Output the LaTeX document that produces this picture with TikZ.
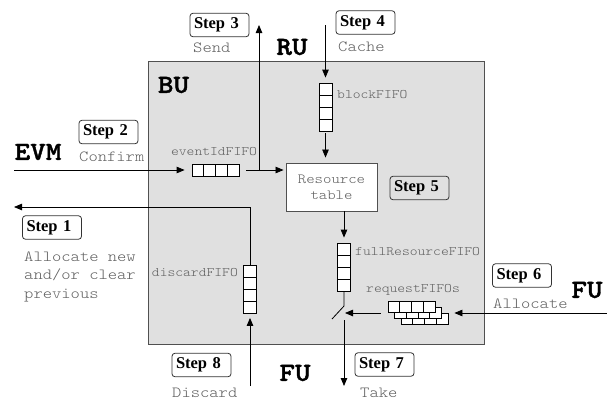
\documentclass[tikz,border=0pt]{standalone}
\usepackage{fontspec}
\setmainfont{Liberation Serif}
\newfontfamily\mono[FakeStretch=1.143]{lmmonolt10-regular.otf}
\newfontfamily\monobf[FakeStretch=1.143, FakeBold=1.5]{lmmonolt10-bold.otf}
\usetikzlibrary{arrows.meta}

\definecolor{bufill}{HTML}{E0E0E0}
\definecolor{edge}{HTML}{505050}
\definecolor{monotext}{HTML}{606060}

\tikzset{
  arr/.style={draw=black, line width=0.8pt, -{Triangle[length=8pt,width=6.5pt]}},
  wire/.style={draw=black, line width=0.8pt},
  stepbox/.style={draw=black!80, line width=0.8pt, rounded corners=3pt,
    minimum width=59pt, minimum height=23.5pt, inner xsep=4pt, inner ysep=0pt,
    text width=51pt, align=left, font=\fontsize{16.5}{18}\selectfont\bfseries},
  desc/.style={inner sep=0pt, text=monotext, font=\mono\fontsize{15.5}{18.5}\selectfont},
  fifolabel/.style={inner sep=0pt, text=monotext, font=\mono\fontsize{13}{15}\selectfont},
  unitlabel/.style={inner sep=0pt, font=\monobf\fontsize{26}{28}\selectfont},
  hfifo/.style={draw=black, fill=white, line width=0.8pt, inner sep=0pt,
    minimum width=47pt, minimum height=12pt,
    path picture={\foreach \i in {1,2,3}{
      \draw[line width=0.8pt] ([xshift=\i*11.75pt]path picture bounding box.south west)
        -- ([xshift=\i*11.75pt]path picture bounding box.north west);}}},
  vfifo/.style={draw=black, fill=white, line width=0.8pt, inner sep=0pt,
    minimum width=13pt, minimum height=48pt,
    path picture={\foreach \i in {1,2,3}{
      \draw[line width=0.8pt] ([yshift=\i*12pt]path picture bounding box.south west)
        -- ([yshift=\i*12pt]path picture bounding box.south east);}}},
}

\begin{document}
\begin{tikzpicture}[x=1pt, y=-1pt]
  \useasboundingbox (0,0) rectangle (607,400);

  % Builder unit
  \node[draw=edge, fill=bufill, line width=0.9pt, minimum width=336pt, minimum height=283pt,
        inner sep=0pt] (bu) at (316,202.5) {};

  % Unit names
  \node[unitlabel] (evm) at (38,152) {EVM};
  \node[unitlabel] (ru) at (292,47) {RU};
  \node[unitlabel] (bulabel) at (173.5,85) {BU};
  \node[unitlabel] (fubottom) at (295,373) {FU};
  \node[unitlabel] (furight) at (587,290) {FU};

  % Steps
  \node[stepbox] (s1) at (52,227.5) {Step 1};
  \node[stepbox] (s2) at (108.5,132) {Step 2};
  \node[stepbox] (s3) at (219.5,25) {Step 3};
  \node[stepbox] (s4) at (365.5,22.5) {Step 4};
  \node[stepbox] (s5) at (419.5,188) {Step 5};
  \node[stepbox] (s6) at (522,275.5) {Step 6};
  \node[stepbox] (s7) at (384.5,364.5) {Step 7};
  \node[stepbox] (s8) at (201.5,365) {Step 8};

  % Step descriptions
  \node[desc, anchor=west] (d3) at (193,48) {Send};
  \node[desc, anchor=west] (d4) at (338,47) {Cache};
  \node[desc, anchor=west] (d2) at (79,157) {Confirm};
  \node[desc, anchor=west] (d6) at (493,304) {Allocate};
  \node[desc, anchor=west] (d8) at (172,392.5) {Discard};
  \node[desc, anchor=west] (d7) at (360,392.5) {Take};
  \node[desc, anchor=west, align=left] (d1) at (24,276.5) {Allocate new\\and/or clear\\previous};

  % Resource table
  \node[draw=edge, fill=white, line width=0.9pt, minimum width=91pt, minimum height=48pt,
        inner sep=0pt, align=center, text=monotext,
        font=\mono\fontsize{14}{16}\selectfont] (rt) at (331.5,187) {Resource\\table};

  % FIFOs
  \node[hfifo] (evfifo) at (215.5,170) {};
  \node[fifolabel] (evlabel) at (214,152) {eventIdFIFO};
  \node[vfifo] (bfifo) at (325.5,107) {};
  \node[fifolabel, anchor=west] (blabel) at (337,95) {blockFIFO};
  \node[vfifo] (frfifo) at (344,267) {};
  \node[fifolabel, anchor=west] (frlabel) at (355,252) {fullResourceFIFO};
  \node[vfifo] (dfifo) at (250,289.5) {};
  \node[fifolabel, anchor=east] (dlabel) at (238,273) {discardFIFO};
  \node[hfifo, minimum height=11pt] (rq3) at (424.5,318.5) {};
  \node[hfifo, minimum height=11pt] (rq2) at (418,312.5) {};
  \node[hfifo, minimum height=11pt] (rq1) at (411.5,306.5) {};
  \node[fifolabel] (rqlabel) at (413,290) {requestFIFOs};

  % Free ends and junctions
  \coordinate (evmin) at (14,170);
  \coordinate (evjoin) at (259,170);
  \coordinate (sendout) at (259,25);
  \coordinate (cachein) at (325.5,25);
  \coordinate (swa) at (344,306);
  \coordinate (swb) at (332,319);
  \coordinate (swc) at (344,320);
  \coordinate (swin) at (345,313);
  \coordinate (takeout) at (344,386);
  \coordinate (fuin) at (607,313);
  \coordinate (discin) at (250,386);
  \coordinate (corner1) at (250,207);
  \coordinate (allocout) at (14,207);

  % Connectors
  \draw[arr, shorten >=7pt] (evmin) -- (evfifo.west);
  \draw[arr, shorten <=7pt, shorten >=2pt] (evfifo.east) -- (rt.west |- evfifo);
  \draw[arr] (evjoin) -- (sendout);
  \draw[arr, shorten >=5pt] (cachein) -- (bfifo.north);
  \draw[arr, shorten <=2pt, shorten >=5pt] (bfifo.south) -- (rt.north -| bfifo);
  \draw[arr, shorten >=5pt] (rt.south -| frfifo) -- (frfifo.north);
  \draw[wire] (frfifo.south) -- (swa) -- (swb);
  \draw[arr] (swc) -- (takeout);
  \draw[arr, shorten <=7pt] (rq1.west |- swin) -- (swin);
  \draw[arr, shorten >=6pt] (fuin) -- (rq3.east |- fuin);
  \draw[arr, shorten >=4pt] (discin) -- (dfifo.south);
  \draw[arr] (dfifo.north) -- (corner1) -- (allocout);
\end{tikzpicture}
\end{document}
